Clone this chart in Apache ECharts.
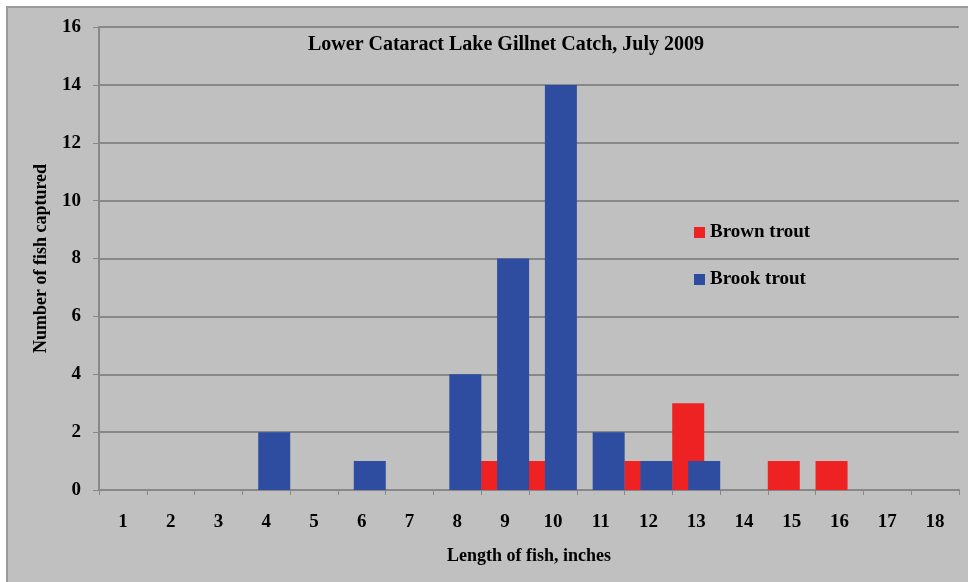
<!DOCTYPE html>
<html>
<head>
<meta charset="utf-8">
<script src="https://cdn.jsdelivr.net/npm/echarts@6/dist/echarts.min.js"></script>
<style>
  html, body { margin: 0; padding: 0; background: #fff; }
  #main { width: 968px; height: 582px; }
</style>
</head>
<body>
<div id="main"></div>
<script>
var lengths = ['1','2','3','4','5','6','7','8','9','10','11','12','13','14','15','16','17','18'];
var brownTrout = [0,0,0,0,0,0,0,0,1,1,0,1,3,0,1,1,0,0];
var brookTrout = [0,0,0,2,0,1,0,4,8,14,2,1,1,0,0,0,0,0];
var yTicks = { min: 0, max: 16, interval: 2 };

var serif = '"Liberation Serif", "Times New Roman", serif';
var myChart = echarts.init(document.getElementById('main'));

var option = {
    backgroundColor: '#fff',
    animation: false,
    graphic: [{
        type: 'rect',
        shape: { x: 7, y: 7, width: 970, height: 590 },
        style: { fill: '#c0c0c0', stroke: '#9a9a9a', lineWidth: 2 },
        z: -10
    }],
    title: {
        text: 'Lower Cataract Lake Gillnet Catch, July 2009',
        left: 501,
        textAlign: 'center',
        top: 30,
        textStyle: { fontFamily: serif, fontSize: 20, fontWeight: 'bold', color: '#000' }
    },
    legend: {
        orient: 'vertical',
        left: 694,
        top: 223,
        padding: 0,
        itemWidth: 11,
        itemHeight: 11,
        itemGap: 28,
        icon: 'rect',
        data: ['Brown trout', 'Brook trout'],
        textStyle: { fontFamily: serif, fontSize: 19, fontWeight: 'bold', color: '#000' }
    },
    grid: { left: 99, right: 9, top: 27, bottom: 92 },
    xAxis: {
        type: 'category',
        data: lengths,
        name: 'Length of fish, inches',
        nameLocation: 'middle',
        nameGap: 57,
        nameTextStyle: { fontFamily: serif, fontSize: 18, fontWeight: 'bold', color: '#000' },
        axisLine: { lineStyle: { color: '#888', width: 2 } },
        axisTick: { show: true, length: 5, lineStyle: { color: '#888', width: 1 } },
        axisLabel: { margin: 23, fontFamily: serif, fontSize: 19, fontWeight: 'bold', color: '#000' }
    },
    yAxis: {
        type: 'value',
        min: yTicks.min,
        max: yTicks.max,
        interval: yTicks.interval,
        name: 'Number of fish captured',
        nameLocation: 'middle',
        nameGap: 49,
        nameTextStyle: { fontFamily: serif, fontSize: 18, fontWeight: 'bold', color: '#000' },
        axisLine: { show: true, lineStyle: { color: '#888', width: 2 } },
        axisTick: { show: true, length: 6, lineStyle: { color: '#888', width: 1 } },
        axisLabel: { margin: 18, fontFamily: serif, fontSize: 19, fontWeight: 'bold', color: '#000' },
        splitLine: { show: true, lineStyle: { color: '#888', width: 2 } }
    },
    series: [
        {
            name: 'Brown trout',
            type: 'bar',
            data: brownTrout,
            barWidth: 32,
            barGap: '-50%',
            itemStyle: { color: '#ee2222' }
        },
        {
            name: 'Brook trout',
            type: 'bar',
            data: brookTrout,
            barWidth: 32,
            barGap: '-50%',
            itemStyle: { color: '#2e4da1' }
        }
    ]
};

myChart.setOption(option);
</script>
</body>
</html>
